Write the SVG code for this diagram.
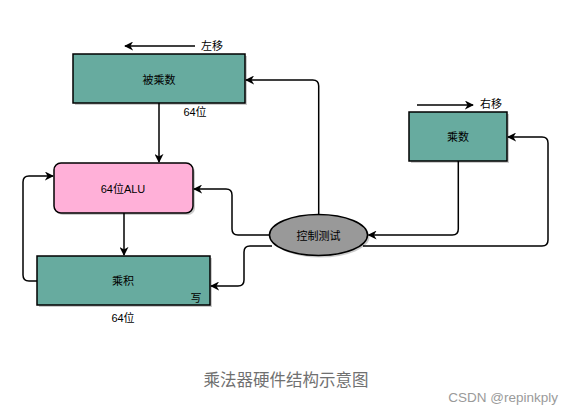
<svg xmlns="http://www.w3.org/2000/svg" width="574" height="412" viewBox="0 0 574 412">
<style>
.box{fill:#67AB9F;stroke:#000;stroke-width:1.5}
.sh{fill:#000;opacity:0.2}
.t{font-family:"Liberation Sans","Noto Sans CJK SC",sans-serif;font-size:11px;fill:#000;text-anchor:middle;dominant-baseline:central}
.c{fill:none;stroke:#000;stroke-width:1.5}
</style>
<defs>
<marker id="ah" viewBox="0 0 10 10" refX="9" refY="5" markerWidth="9" markerHeight="9" markerUnits="userSpaceOnUse" orient="auto">
<path d="M0,0 L10,5 L0,10 L3,5 Z" fill="#000"/>
</marker>
</defs>
<rect width="574" height="412" fill="#fff"/>
<g id="multiplicand">
<rect class="sh" x="75" y="56" width="172" height="49"/>
<rect class="box" x="73" y="54" width="172" height="49"/>
<text class="t" x="159" y="80">被乘数</text>
<text class="t" x="195" y="112">64位</text>
<text class="t" x="212" y="46">左移</text>
</g>
<g id="alu">
<rect class="sh" x="56" y="165" width="139" height="50" rx="7"/>
<rect x="54" y="163" width="139" height="50" rx="7" fill="#FFB0D8" stroke="#000" stroke-width="1.5"/>
<text class="t" x="123" y="189">64位ALU</text>
</g>
<g id="product">
<rect class="sh" x="39" y="258" width="173" height="49"/>
<rect class="box" x="37" y="256" width="173" height="49"/>
<text class="t" x="123" y="281">乘积</text>
<text class="t" x="196" y="298">写</text>
<text class="t" x="123" y="318">64位</text>
</g>
<g id="multiplier">
<rect class="sh" x="411" y="114" width="98" height="49"/>
<rect class="box" x="409" y="112" width="98" height="49"/>
<text class="t" x="458" y="137">乘数</text>
<text class="t" x="491" y="104">右移</text>
</g>
<g id="control">
<ellipse cx="320.5" cy="237" rx="49" ry="20.5" fill="#000" opacity="0.2"/>
<ellipse cx="318.5" cy="235" rx="49" ry="20.5" fill="#999999" stroke="#000" stroke-width="1.5"/>
<text class="t" x="318.5" y="236">控制测试</text>
</g>
<g id="connectors">
<path class="c" d="M195,46 H125" marker-end="url(#ah)"/>
<path class="c" d="M417,105 H473" marker-end="url(#ah)"/>
<path class="c" d="M159,103 V162" marker-end="url(#ah)"/>
<path class="c" d="M124,213 V255" marker-end="url(#ah)"/>
<path class="c" d="M37,281 H29 Q23,281 23,275 V182 Q23,176 29,176 H53" marker-end="url(#ah)"/>
<path class="c" d="M318.7,214.5 V86 Q318.7,80 312.7,80 H246" marker-end="url(#ah)"/>
<path class="c" d="M269.5,235 H238 Q232,235 232,229 V195 Q232,189 226,189 H194" marker-end="url(#ah)"/>
<path class="c" d="M272,246 H250 Q244,246 244,252 V280 Q244,286 238,286 H211" marker-end="url(#ah)"/>
<path class="c" d="M458.3,161 V229 Q458.3,235 452.3,235 H368.5" marker-end="url(#ah)"/>
<path class="c" d="M363,246 H542 Q548,246 548,240 V143 Q548,137 542,137 H508" marker-end="url(#ah)"/>
</g>
<text x="286" y="380" font-family="Liberation Sans,'Noto Sans CJK SC',sans-serif" font-size="16.5" fill="#707070" text-anchor="middle" dominant-baseline="central">乘法器硬件结构示意图</text>
<text x="558" y="397" font-family="Liberation Sans,'Noto Sans CJK SC',sans-serif" font-size="13.5" fill="#9a9a9a" text-anchor="end" dominant-baseline="central">CSDN @repinkply</text>
</svg>
